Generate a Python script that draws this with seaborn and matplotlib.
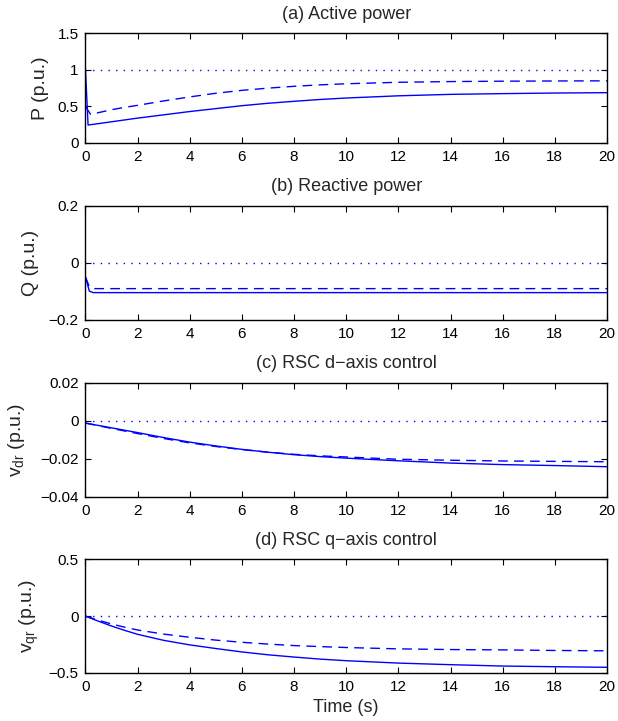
import numpy as np
import pandas as pd
import matplotlib
matplotlib.use("Agg")
import matplotlib.pyplot as plt
from matplotlib.ticker import FuncFormatter, MultipleLocator
import seaborn as sns

# ---------------- data ----------------
t_p_solid = [0, 0.1, 0.5, 1, 1.5, 2, 3, 4, 5, 6, 7, 8, 9, 10, 12, 14, 16, 18, 20]
p_solid = [1.0, 0.245, 0.265, 0.29, 0.315, 0.34, 0.385, 0.43, 0.47, 0.51, 0.543, 0.57, 0.595, 0.615, 0.645, 0.665, 0.675, 0.683, 0.688]
t_p_dash = [0, 0.2, 0.5, 1, 1.5, 2, 3, 4, 5, 6, 7, 8, 9, 10, 12, 14, 16, 18, 20]
p_dash = [0.5, 0.39, 0.415, 0.455, 0.487, 0.515, 0.575, 0.63, 0.68, 0.72, 0.75, 0.775, 0.795, 0.81, 0.83, 0.84, 0.845, 0.848, 0.85]
p_ref = [1.0, 1.0]

t_q_solid = [0, 0.15, 0.3, 20]
q_solid = [-0.05, -0.1, -0.105, -0.105]
t_q_dash = [0, 0.15, 0.3, 20]
q_dash = [-0.05, -0.085, -0.091, -0.091]
q_ref = [0.0, 0.0]

t_vd = [0, 1, 2, 3, 4, 5, 6, 7, 8, 9, 10, 12, 14, 16, 18, 20]
vd_solid = [-0.0012, -0.0037, -0.0062, -0.0088, -0.0112, -0.0132, -0.015, -0.0165, -0.0178, -0.0188, -0.0196, -0.021, -0.0222, -0.023, -0.0235, -0.0241]
vd_dash = [-0.0012, -0.0040, -0.0067, -0.0093, -0.0116, -0.0135, -0.0151, -0.0165, -0.0176, -0.0184, -0.019, -0.0202, -0.0207, -0.0211, -0.0213, -0.0215]
vd_ref = [0.0, 0.0]

t_vq = [0, 0.5, 1, 1.5, 2, 3, 4, 5, 6, 7, 8, 9, 10, 12, 14, 16, 18, 20]
vq_solid = [0.0, -0.045, -0.087, -0.125, -0.16, -0.213, -0.253, -0.285, -0.315, -0.34, -0.36, -0.378, -0.392, -0.413, -0.427, -0.439, -0.445, -0.45]
vq_dash = [0.0, -0.036, -0.069, -0.097, -0.122, -0.158, -0.186, -0.211, -0.23, -0.246, -0.259, -0.268, -0.276, -0.288, -0.294, -0.297, -0.302, -0.305]
vq_ref = [0.0, 0.0]

t_ref = [0, 20]

titles = ["(a) Active power", "(b) Reactive power", "(c) RSC d\u2212axis control", "(d) RSC q\u2212axis control"]
ylabels = ["P (p.u.)", "Q (p.u.)", r"v$_{\mathrm{dr}}$ (p.u.)", r"v$_{\mathrm{qr}}$ (p.u.)"]
ylims = [(0, 1.5), (-0.2, 0.2), (-0.04, 0.02), (-0.5, 0.5)]
ysteps = [0.5, 0.2, 0.02, 0.5]
xticks = list(range(0, 21, 2))

# ---------------- style ----------------
sns.set_style("ticks", {"xtick.direction": "in", "ytick.direction": "in"})
plt.rcParams["font.family"] = ["Liberation Sans", "DejaVu Sans"]
plt.rcParams["mathtext.fontset"] = "custom"
plt.rcParams["mathtext.rm"] = "Liberation Sans"
plt.rcParams["mathtext.it"] = "Liberation Sans:italic"

fig = plt.figure(figsize=(6.18, 7.21), dpi=100)
boxes = [(0.8017, 0.9538), (0.5566, 0.7147), (0.3107, 0.4692), (0.0666, 0.2243)]
left, right = 0.1383, 0.9822
ylab_x = [-0.069, -0.089, -0.113, -0.086]

panels = [
    (t_p_solid, p_solid, t_p_dash, p_dash, p_ref),
    (t_q_solid, q_solid, t_q_dash, q_dash, q_ref),
    (t_vd, vd_solid, t_vd, vd_dash, vd_ref),
    (t_vq, vq_solid, t_vq, vq_dash, vq_ref),
]

def fmt(v, pos):
    if abs(v) < 1e-12:
        return "0"
    return ("%g" % round(v, 6)).replace("-", "\u2212")

blue = "#0000ff"
for i, ((ts, ys, td, yd, yr), (b, tp)) in enumerate(zip(panels, boxes)):
    ax = fig.add_axes([left, b, right - left, tp - b])
    sns.lineplot(x=t_ref, y=yr, ax=ax, color=blue, linestyle=(0, (1, 4.5)), linewidth=1.0)
    sns.lineplot(x=td, y=yd, ax=ax, color=blue, linestyle=(0, (7, 4.5)), linewidth=1.0)
    sns.lineplot(x=ts, y=ys, ax=ax, color=blue, linestyle="-", linewidth=1.0)
    ax.set_xlim(0, 20)
    ax.set_ylim(*ylims[i])
    ax.set_xticks(xticks)
    ax.yaxis.set_major_locator(MultipleLocator(ysteps[i]))
    ax.yaxis.set_major_formatter(FuncFormatter(fmt))
    ax.xaxis.set_major_formatter(FuncFormatter(fmt))
    ax.tick_params(direction="in", top=True, right=True, length=4, width=0.8,
                   labelsize=11, colors="black", pad=5)
    for s in ax.spines.values():
        s.set_visible(True)
        s.set_linewidth(1.0)
        s.set_color("black")
    ax.set_title(titles[i], fontsize=13, pad=10.5)
    ax.set_ylabel(ylabels[i], fontsize=14)
    ax.set_xlabel("Time (s)" if i == 3 else "", fontsize=13)
    ax.yaxis.set_label_coords(ylab_x[i], 0.5)

fig.savefig("out.png", dpi=100)
